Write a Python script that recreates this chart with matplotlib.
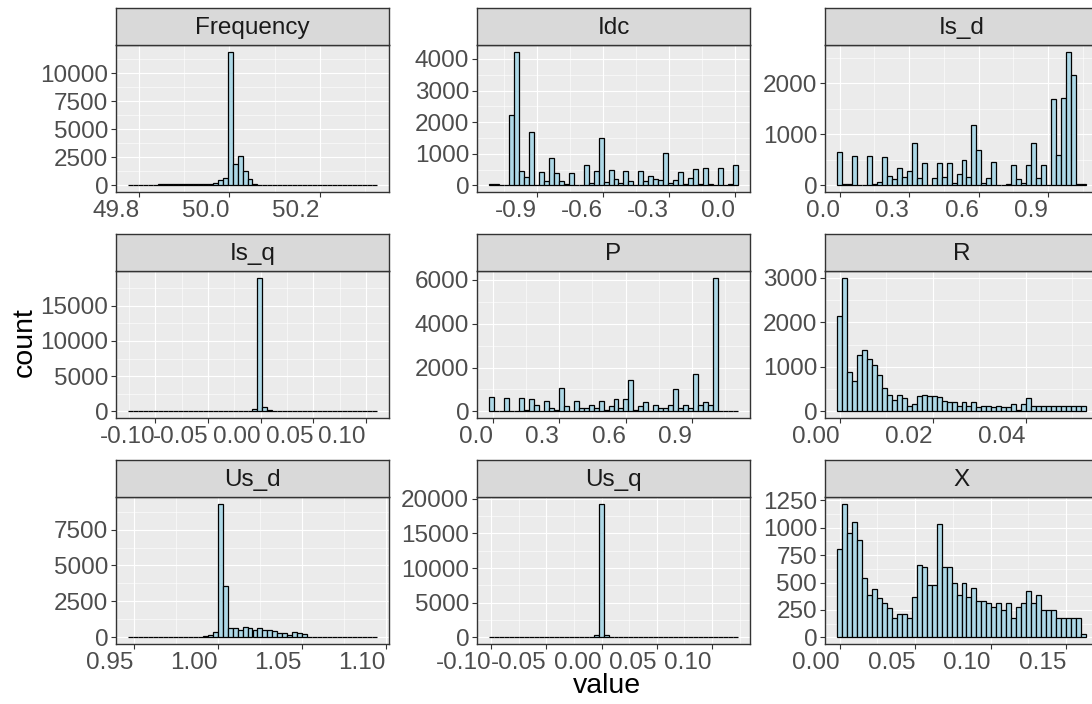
import numpy as np
import matplotlib
matplotlib.use("Agg")
import matplotlib.pyplot as plt

plt.rcParams['font.family'] = ['Liberation Sans', 'DejaVu Sans']

# ---------------- data ----------------
panel_names = ["Frequency", "Idc", "Is_d", "Is_q", "P", "R", "Us_d", "Us_q", "X"]

# first bin left edge and bin width (50 bins each)
bin_start = {
    "Frequency": 49.7756, "Idc": -1.1154, "Is_d": -0.0101,
    "Is_q": -0.1257, "P": -0.01505, "R": -0.000503,
    "Us_d": 0.94683, "Us_q": -0.10151, "X": -0.00155,
}
bin_width = {
    "Frequency": 0.01102, "Idc": 0.0225, "Is_d": 0.02144,
    "Is_q": 0.004718, "P": 0.022425, "R": 0.0010687,
    "Us_d": 0.0029524, "Us_q": 0.0044948, "X": 0.003292,
}

freq_counts = [0, 0, 0, 0, 0, 0, 80, 80, 80, 80, 80, 80, 80, 80, 80, 90,
               110, 240, 480, 690, 11900, 1940, 2630, 1250, 600, 120, 60, 60, 60, 60,
               0, 0, 0, 0, 0, 0, 0, 0, 0, 0, 0, 0, 0, 0, 0, 0, 0, 0, 0, 0]
idc_counts = [30, 30, 0, 20, 2240, 4230, 440, 270, 1700, 0,
              410, 150, 850, 400, 150, 30, 400, 0, 0, 650,
              80, 440, 1500, 100, 480, 200, 70, 440, 150, 0,
              440, 130, 280, 200, 170, 1030, 80, 160, 430, 30,
              240, 510, 30, 560, 30, 0, 560, 0, 30, 640]
isd_counts = [650, 20, 20, 570, 0, 0, 570, 20, 70, 550,
              180, 120, 330, 170, 290, 820, 150, 430, 0, 150,
              430, 170, 430, 50, 230, 500, 170, 1180, 700, 50,
              150, 450, 0, 0, 20, 400, 120, 50, 400, 820,
              150, 400, 0, 1690, 600, 1710, 2620, 2170, 20, 20]
isq_counts = [0, 0, 0, 0, 0, 0, 0, 0, 0, 0, 0, 0, 0, 0, 0, 0, 0, 0, 0, 0,
              0, 0, 0, 50, 100, 300, 19000, 570, 150, 100,
              0, 0, 0, 0, 0, 0, 0, 0, 0, 0, 0, 0, 0, 0, 0, 0, 0, 0, 0, 0]
p_counts = [650, 0, 0, 600, 0, 0, 600, 50, 540, 270,
            0, 470, 150, 50, 1080, 250, 0, 470, 150, 150,
            300, 150, 470, 50, 250, 540, 150, 550, 1420, 70,
            250, 420, 0, 300, 170, 150, 300, 1020, 150, 300,
            150, 1700, 300, 430, 300, 6100, 30, 0, 30, 30]
r_counts = [2150, 3000, 890, 690, 1260, 1380, 1180, 1040, 810, 520,
            370, 260, 370, 300, 120, 170, 340, 360, 340, 340,
            330, 240, 220, 220, 120, 220, 120, 220, 100, 120,
            120, 100, 130, 100, 100, 170, 20, 160, 300, 120,
            120, 120, 120, 120, 120, 120, 120, 120, 120, 120]
usd_counts = [0, 0, 0, 0, 0, 0, 0, 0, 0, 0, 0, 0, 0, 0, 0,
              80, 180, 380, 9300, 3600, 630, 620, 500, 720, 640,
              520, 620, 530, 520, 430, 270, 270, 150, 370, 300, 200,
              0, 0, 0, 0, 0, 0, 0, 0, 0, 0, 0, 0, 0, 0]
usq_counts = [0, 0, 0, 0, 0, 0, 0, 0, 0, 0, 0, 0, 0, 0, 0, 0, 0, 0, 0,
              80, 100, 300, 19300, 300, 100, 80, 0, 0, 100,
              0, 0, 0, 0, 0, 0, 0, 0, 0, 0, 0, 0, 0, 0, 0, 0, 0, 0, 0, 0, 0]
x_counts = [810, 1220, 950, 1050, 890, 540, 390, 440, 360, 310,
            270, 180, 210, 210, 180, 370, 660, 640, 480, 480,
            1030, 640, 640, 500, 390, 500, 370, 450, 330, 330,
            310, 280, 310, 250, 310, 180, 280, 310, 420, 310,
            390, 250, 250, 250, 180, 180, 180, 180, 180, 30]

counts = {
    "Frequency": freq_counts, "Idc": idc_counts, "Is_d": isd_counts,
    "Is_q": isq_counts, "P": p_counts, "R": r_counts,
    "Us_d": usd_counts, "Us_q": usq_counts, "X": x_counts,
}

x_ticks = {
    "Frequency": [49.8, 50.0, 50.2],
    "Idc": [-0.9, -0.6, -0.3, 0.0],
    "Is_d": [0.0, 0.3, 0.6, 0.9],
    "Is_q": [-0.10, -0.05, 0.00, 0.05, 0.10],
    "P": [0.0, 0.3, 0.6, 0.9],
    "R": [0.00, 0.02, 0.04],
    "Us_d": [0.95, 1.00, 1.05, 1.10],
    "Us_q": [-0.10, -0.05, 0.00, 0.05, 0.10],
    "X": [0.00, 0.05, 0.10, 0.15],
}
x_labels = {
    "Frequency": ["49.8", "50.0", "50.2"],
    "Idc": ["-0.9", "-0.6", "-0.3", "0.0"],
    "Is_d": ["0.0", "0.3", "0.6", "0.9"],
    "Is_q": ["-0.10", "-0.05", "0.00", "0.05", "0.10"],
    "P": ["0.0", "0.3", "0.6", "0.9"],
    "R": ["0.00", "0.02", "0.04"],
    "Us_d": ["0.95", "1.00", "1.05", "1.10"],
    "Us_q": ["-0.10", "-0.05", "0.00", "0.05", "0.10"],
    "X": ["0.00", "0.05", "0.10", "0.15"],
}
y_ticks = {
    "Frequency": [0, 2500, 5000, 7500, 10000],
    "Idc": [0, 1000, 2000, 3000, 4000],
    "Is_d": [0, 1000, 2000],
    "Is_q": [0, 5000, 10000, 15000],
    "P": [0, 2000, 4000, 6000],
    "R": [0, 1000, 2000, 3000],
    "Us_d": [0, 2500, 5000, 7500],
    "Us_q": [0, 5000, 10000, 15000, 20000],
    "X": [0, 250, 500, 750, 1000, 1250],
}

# ---------------- layout ----------------
W, H = 1092, 704
fig = plt.figure(figsize=(W / 100, H / 100), dpi=100)
fig.patch.set_facecolor("white")

col_left = [116, 477, 825]
panel_w = 273
row_top = [45, 271, 497]
panel_h = 147
strip_h = 37

def add_px_axes(l, t, w, h):
    return fig.add_axes([l / W, 1 - (t + h) / H, w / W, h / H])

BORDER = "#333333"
TICKLAB = "#4D4D4D"
FS = 17.5

for i, name in enumerate(panel_names):
    r, c = divmod(i, 3)
    l = col_left[c]
    t = row_top[r]
    ax = add_px_axes(l, t, panel_w, panel_h)
    ax.set_facecolor("#EBEBEB")

    w = bin_width[name]
    cnt = np.array(counts[name], dtype=float)
    left_edges = bin_start[name] + w * np.arange(len(cnt))
    ax.bar(left_edges, cnt, width=w, align="edge", color="#ADD8E6",
           edgecolor="black", linewidth=0.9, zorder=3)

    xt = x_ticks[name]
    ax.set_xticks(xt, x_labels[name])
    sx = xt[1] - xt[0]
    ax.set_xticks(np.arange(xt[0] - sx / 2, xt[-1] + sx, sx), minor=True)
    yt = y_ticks[name]
    ax.set_yticks(yt, [str(v) for v in yt])
    sy = yt[1] - yt[0]
    ax.set_yticks(np.arange(yt[0] - sy / 2, yt[-1] + sy, sy), minor=True)

    # limits after ticks (ggplot-like 5% expansion)
    lo = left_edges[0]
    hi = left_edges[-1] + w
    rng = hi - lo
    ax.set_xlim(lo - 0.05 * rng, hi + 0.05 * rng)
    m = cnt.max()
    ax.set_ylim(-0.05 * m, 1.05 * m)

    ax.grid(which="major", color="white", linewidth=0.85, zorder=0)
    ax.grid(which="minor", color="white", linewidth=0.4, zorder=0)
    ax.set_axisbelow(True)
    ax.tick_params(which="major", length=3.6, width=0.8, color=BORDER,
                   labelsize=FS, labelcolor=TICKLAB, pad=2)
    ax.tick_params(which="minor", length=0)
    for lab in ax.get_xticklabels():
        lab.set_horizontalalignment("right")
    for sp in ax.spines.values():
        sp.set_color(BORDER)
        sp.set_linewidth(1.0)
        sp.set_zorder(5)

    # strip
    sax = add_px_axes(l, t - strip_h, panel_w, strip_h)
    sax.set_facecolor("#D9D9D9")
    sax.set_xticks([])
    sax.set_yticks([])
    for sp in sax.spines.values():
        sp.set_color(BORDER)
        sp.set_linewidth(1.0)
    sax.text(0.5, 0.47, name, transform=sax.transAxes, ha="center", va="center",
             fontsize=FS, color="#1A1A1A")

fig.text(25 / W, 1 - 342 / H, "count", rotation=90, ha="center", va="center",
         fontsize=20.5, color="black")
fig.text(607 / W, 1 - 693 / H, "value", ha="center", va="baseline",
         fontsize=20.5, color="black")

fig.savefig("out.png", dpi=100)
